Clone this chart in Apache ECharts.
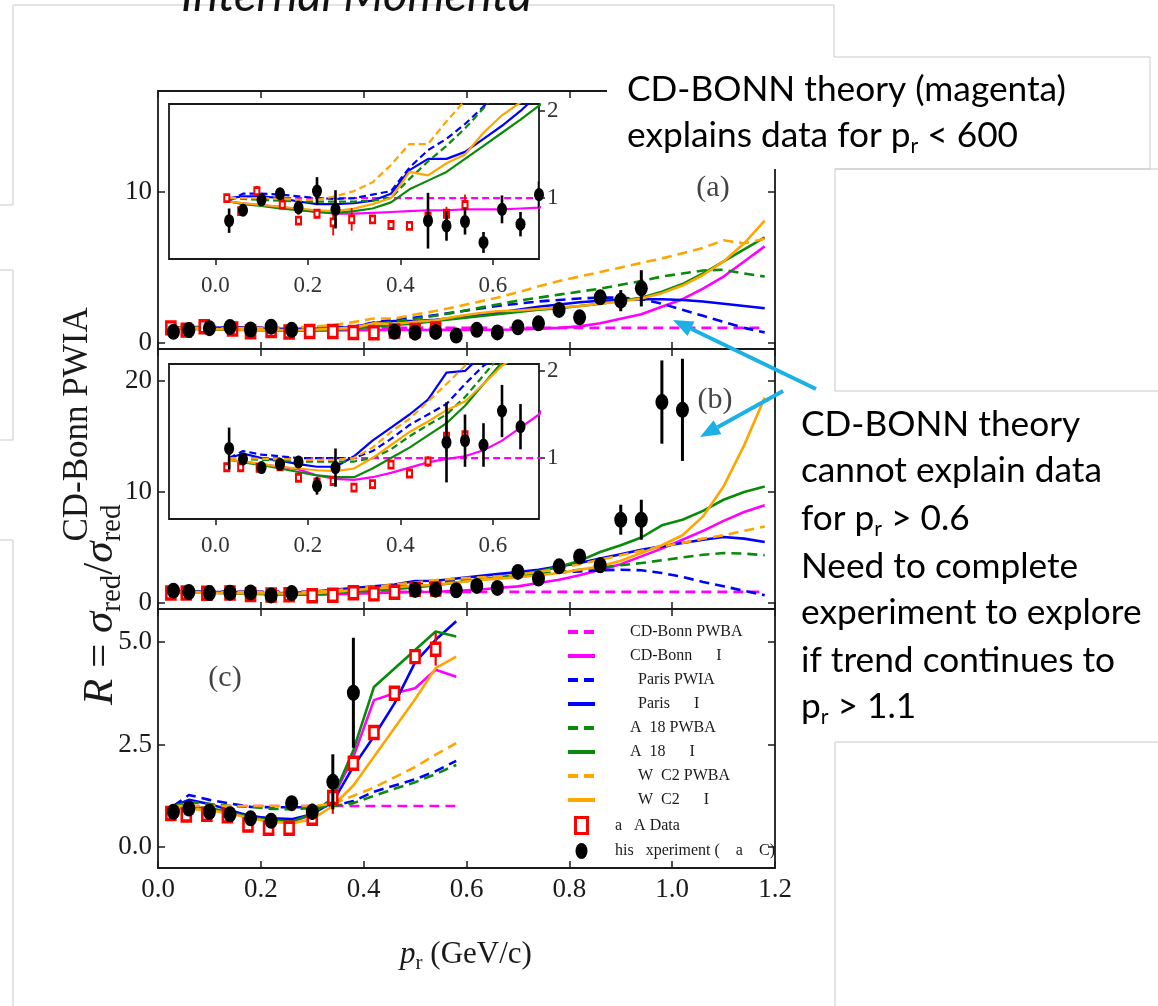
<!DOCTYPE html>
<html>
<head>
<meta charset="utf-8">
<title>R vs p_r</title>
<script src="https://cdn.jsdelivr.net/npm/echarts@6/dist/echarts.min.js"></script>
<style>
html,body{margin:0;padding:0;background:#fff;}
#chart{width:1158px;height:1006px;}
</style>
</head>
<body>
<div id="chart"></div>
<script>
// ================= DATA =================
const xTickStep = 0.2;
const aYTicks = [0, 10];
const bYTicks = [0, 10, 20];
const cYTicks = [0, 2.5, 5];
const insetXTicks = [0, 0.2, 0.4, 0.6];
const insetYTicks = [1, 2];

const seriesNames = ['CD-Bonn PWBA', 'CD-Bonn      I', '  Paris PWIA', '  Paris      I',
  'A  18 PWBA', 'A  18      I', '  W  C2 PWBA', '  W  C2      I',
  'a   A Data', 'his   xperiment (    a    C)'];

// theory grid (panels a, b) and panel c
const curveX = [0.03,0.06,0.10,0.14,0.18,0.22,0.26,0.30,0.34,0.38,0.42,0.46,0.50,0.54,0.58,0.62,0.66,0.70,0.74,0.78,0.82,0.86,0.90,0.94,0.98,1.02,1.06,1.10,1.14,1.18];
const curveXc = [0.03,0.06,0.10,0.14,0.18,0.22,0.26,0.30,0.34,0.38,0.42,0.46,0.50,0.54,0.58];

// ---- panel (a) ----
const aCdPwba   = [1,1,1,1,1,1,1,1,1,1,1,1,1,1,1,1,1,1,1,1,1,1,1,1,1,1,1,1,1,1];
const aCdFsi    = [0.96,0.94,0.92,0.90,0.87,0.84,0.82,0.82,0.83,0.84,0.85,0.86,0.86,0.87,0.87,0.87,0.88,0.89,0.95,1.0,1.1,1.3,1.6,1.9,2.4,2.9,3.6,4.4,5.4,6.4];
const aParisPwia= [0.97,1.05,1.05,1.04,1.02,1.0,0.99,1.0,1.04,1.08,1.35,1.55,1.68,1.85,2.05,2.25,2.45,2.6,2.75,2.85,2.95,3.0,3.0,2.9,2.6,2.2,1.8,1.4,1.0,0.7];
const aParisFsi = [1.0,1.02,1.02,1.0,0.96,0.93,0.93,0.94,0.97,1.05,1.32,1.45,1.45,1.53,1.68,1.83,2.0,2.2,2.4,2.55,2.7,2.8,2.85,2.9,2.9,2.85,2.75,2.6,2.45,2.3];
const aAv18Pwba = [1.0,0.99,0.98,0.97,0.96,0.96,0.96,0.96,0.97,1.0,1.22,1.42,1.6,1.8,2.03,2.3,2.55,2.8,3.0,3.2,3.4,3.6,3.85,4.1,4.4,4.6,4.8,4.85,4.6,4.4];
const aAv18Fsi  = [0.96,0.93,0.91,0.88,0.86,0.84,0.83,0.85,0.88,0.95,1.1,1.2,1.3,1.45,1.6,1.75,1.9,2.06,2.2,2.3,2.45,2.6,2.8,3.0,3.4,3.9,4.6,5.4,6.2,7.0];
const aWjcPwba  = [1.0,1.0,1.0,0.99,0.98,0.98,1.02,1.08,1.18,1.38,1.62,1.62,1.88,2.12,2.4,2.7,3.0,3.35,3.75,4.1,4.4,4.7,5.0,5.3,5.6,5.95,6.3,6.8,6.6,6.9];
const aWjcFsi   = [0.96,0.94,0.92,0.9,0.88,0.86,0.85,0.88,0.93,1.0,1.3,1.26,1.4,1.5,1.75,1.95,2.1,2.15,2.25,2.35,2.45,2.6,2.75,2.95,3.3,3.8,4.5,5.4,6.6,8.1];
const aHallaX   = [0.025,0.055,0.09,0.145,0.18,0.22,0.255,0.295,0.34,0.38,0.42,0.46,0.50,0.54];
const aHallaY   = [1.00,0.85,1.08,0.925,0.74,0.82,0.72,0.755,0.755,0.69,0.68,0.79,0.82,0.92];
const aHallaErr = [0.03,0.03,0.06,0.03,0.03,0.03,0.15,0.13,0.05,0.03,0.03,0.06,0.08,0.12];
const aExpX     = [0.03,0.06,0.10,0.14,0.18,0.22,0.26,0.46,0.50,0.54,0.58,0.62,0.66,0.70,0.74,0.78,0.82,0.86,0.90,0.94];
const aExpY     = [0.74,0.86,0.98,1.05,0.89,1.08,0.87,0.74,0.68,0.73,0.49,0.87,0.70,1.04,1.30,2.19,1.70,3.02,2.80,3.62];
const aExpErr   = [0.14,0.05,0.05,0.06,0.08,0.16,0.22,0.32,0.17,0.15,0.12,0.16,0.14,0.15,0.2,0.2,0.2,0.35,0.7,1.2];

// ---- panel (b) ----
const bCdPwba   = [1,1,1,1,1,1,1,1,1,1,1,1,1,1,1,1,1,1,1,1,1,1,1,1,1,1,1,1,1,1];
const bCdFsi    = [0.98,0.96,0.93,0.90,0.87,0.80,0.76,0.75,0.78,0.83,0.89,0.95,0.99,1.02,1.09,1.2,1.35,1.5,1.8,2.1,2.5,3.0,3.5,4.2,4.9,5.7,6.5,7.4,8.2,8.8];
const bParisPwia= [1.0,1.08,1.04,1.02,1.0,1.0,1.0,1.0,1.08,1.22,1.38,1.5,1.62,1.85,2.06,2.2,2.35,2.5,2.6,2.75,2.85,2.95,3.0,2.95,2.7,2.35,1.9,1.5,1.1,0.7];
const bParisFsi = [1.0,1.05,1.0,0.97,0.93,0.9,0.9,1.02,1.2,1.35,1.5,1.67,1.98,2.0,2.2,2.4,2.6,2.8,3.0,3.3,3.6,4.0,4.4,4.8,5.1,5.4,5.7,5.95,5.8,5.5];
const bAv18Pwba = [1.0,0.99,0.98,0.97,0.96,0.96,0.96,0.96,1.0,1.1,1.25,1.38,1.5,1.7,1.95,2.2,2.3,2.45,2.6,2.8,3.0,3.2,3.4,3.6,3.85,4.1,4.35,4.5,4.45,4.3];
const bAv18Fsi  = [0.98,0.95,0.92,0.88,0.84,0.8,0.78,0.78,0.88,1.0,1.12,1.26,1.4,1.6,1.85,2.1,2.3,2.55,2.85,3.25,3.8,4.6,5.2,5.9,7.0,7.5,8.3,9.3,10.0,10.5];
const bWjcPwba  = [1.0,1.0,0.99,0.99,0.98,0.98,0.98,1.0,1.12,1.3,1.45,1.65,1.85,2.06,2.2,2.3,2.4,2.55,2.8,3.1,3.5,3.9,4.3,4.7,5.1,5.4,5.8,6.1,6.5,6.9];
const bWjcFsi   = [0.98,0.96,0.93,0.9,0.88,0.86,0.85,0.88,1.0,1.15,1.3,1.42,1.55,1.65,1.85,2.06,2.2,2.3,2.5,2.7,3.0,3.3,3.8,4.5,5.2,6.1,7.8,10.5,14.2,18.5];
const bHallaX   = [0.025,0.055,0.095,0.14,0.18,0.22,0.255,0.30,0.34,0.38,0.42,0.46,0.50,0.54];
const bHallaY   = [0.894,0.894,0.887,0.906,0.774,0.72,0.736,0.66,0.70,0.925,0.823,0.96,1.245,1.264];
const bHallaErr = [0.03,0.03,0.03,0.03,0.03,0.03,0.03,0.04,0.04,0.05,0.04,0.06,0.17,0.19];
const bExpX     = [0.03,0.06,0.10,0.14,0.18,0.22,0.26,0.50,0.54,0.58,0.62,0.66,0.70,0.74,0.78,0.82,0.86,0.90,0.94,0.98,1.02];
const bExpY     = [1.11,0.99,0.89,0.93,0.955,0.68,0.89,1.18,1.20,1.15,1.54,1.36,2.8,2.2,3.3,4.2,3.4,7.5,7.5,18.1,17.4];
const bExpErr   = [0.24,0.05,0.05,0.05,0.07,0.10,0.22,0.46,0.30,0.25,0.30,0.26,0.2,0.2,0.2,0.25,0.3,1.35,1.8,3.75,4.6];

// ---- panel (c) ----
const cCdPwba   = [1,1,1,1,1,1,1,1,1,1,1,1,1,1,1];
const cCdFsi    = [0.98,0.95,0.92,0.85,0.76,0.68,0.63,0.78,1.2,2.2,3.58,3.75,3.87,4.32,4.15];
const cParisPwia= [1.0,1.27,1.15,1.06,0.98,0.97,0.97,0.97,1.0,1.12,1.35,1.5,1.65,1.85,2.1];
const cParisFsi = [1.0,1.15,1.05,0.9,0.75,0.7,0.68,0.8,1.1,1.96,2.7,3.5,4.5,5.05,5.5];
const cAv18Pwba = [1.0,1.1,1.05,1.0,0.98,0.93,0.92,0.95,1.0,1.07,1.25,1.42,1.58,1.78,2.0];
const cAv18Fsi  = [0.98,0.97,0.95,0.85,0.72,0.66,0.62,0.8,1.2,2.36,3.9,4.35,4.8,5.25,5.13];
const cWjcPwba  = [1.0,1.0,1.0,1.0,1.0,1.0,1.0,1.0,1.05,1.25,1.45,1.7,1.95,2.25,2.53];
const cWjcFsi   = [0.95,0.93,0.9,0.82,0.7,0.62,0.58,0.68,1.0,1.5,2.2,2.9,3.6,4.36,4.64];
const cHallaX   = [0.025,0.055,0.095,0.135,0.175,0.215,0.255,0.30,0.34,0.38,0.42,0.46,0.50,0.54];
const cHallaY   = [0.82,0.78,0.80,0.76,0.54,0.46,0.46,0.70,1.21,2.04,2.79,3.75,4.64,4.82];
const cHallaErr = [0.03,0.03,0.03,0.03,0.03,0.03,0.03,0.05,0.4,0.1,0.1,0.1,0.15,0.4];
const cExpX     = [0.03,0.06,0.10,0.14,0.18,0.22,0.26,0.30,0.34,0.38];
const cExpY     = [0.86,0.94,0.86,0.80,0.70,0.64,1.07,0.86,1.59,3.76];
const cExpErr   = [0.18,0.1,0.1,0.1,0.12,0.1,0.12,0.2,0.67,1.34];

// ================= STYLE / LAYOUT =================
const SERIF = 'Liberation Serif';
const SANS = 'Lato';
const INK = '#1a1a1a';
const MAG = '#ff00ff', BLUE = '#0000ff', GREEN = '#0a8a0a', ORANGE = '#ffa500', RED = '#ff0000';
const CYAN = '#1bb0e6';
const curveColors = [MAG, MAG, BLUE, BLUE, GREEN, GREEN, ORANGE, ORANGE];
const curveDashed = [true, false, true, false, true, false, true, false];

const mctx = document.createElement('canvas').getContext('2d');
function tw(text, size, family, style) {
  mctx.font = (style || 'normal') + ' ' + size + 'px "' + family + '"';
  return mctx.measureText(text).width;
}

function zip(xs, ys) { return xs.map((x, i) => [x, ys[i]]); }
function zip3(xs, ys, es) { return xs.map((x, i) => [x, ys[i], es[i]]); }

function errRender(color, width) {
  return function (params, api) {
    const x = api.value(0), y = api.value(1), e = api.value(2);
    const p1 = api.coord([x, y - e]);
    const p2 = api.coord([x, y + e]);
    return { type: 'line', shape: { x1: p1[0], y1: p1[1], x2: p2[0], y2: p2[1] },
      style: { stroke: color, lineWidth: width } };
  };
}

function curveSeries(xi, yi, xs, arrays, inset) {
  return arrays.map((arr, k) => ({
    type: 'line', name: seriesNames[k], xAxisIndex: xi, yAxisIndex: yi,
    data: zip(xs, arr), symbol: 'none', showSymbol: false, silent: true, animation: false,
    clip: true, z: 2,
    itemStyle: { color: curveColors[k] },
    lineStyle: { color: curveColors[k], width: inset ? 2.2 : 2.6,
      type: curveDashed[k] ? (inset ? [7, 4] : [10, 6]) : 'solid' }
  }));
}

function pointSeries(xi, yi, hx, hy, he, ex, ey, ee, inset) {
  return [
    { type: 'scatter', name: seriesNames[8], xAxisIndex: xi, yAxisIndex: yi, data: zip(hx, hy),
      symbol: 'rect', symbolSize: inset ? [5, 7] : [9, 12], clip: true, z: 4, silent: true, animation: false,
      itemStyle: { color: '#ffffff', borderColor: RED, borderWidth: inset ? 2.4 : 3, opacity: 1 } },
    { type: 'custom', name: 'hallaErr', xAxisIndex: xi, yAxisIndex: yi, data: zip3(hx, hy, he),
      renderItem: errRender(RED, inset ? 1.8 : 2.2), clip: true, z: 3, silent: true, animation: false },
    { type: 'scatter', name: seriesNames[9], xAxisIndex: xi, yAxisIndex: yi, data: zip(ex, ey),
      symbol: 'circle', symbolSize: inset ? [10, 13] : [13, 16], clip: true, z: 6, silent: true, animation: false,
      itemStyle: { color: '#000000', opacity: 1 } },
    { type: 'custom', name: 'expErr', xAxisIndex: xi, yAxisIndex: yi, data: zip3(ex, ey, ee),
      renderItem: errRender('#000000', inset ? 2.6 : 3), clip: true, z: 5, silent: true, animation: false }
  ];
}

const tickLine = { color: INK, width: 1.5 };
const noLine = { show: false, onZero: false };
function mainX(grid, showLabels) {
  return [
    { type: 'value', gridIndex: grid, position: 'bottom', min: 0, max: 1.2, interval: xTickStep,
      axisLine: noLine, splitLine: { show: false },
      axisTick: { show: true, inside: true, length: 7, lineStyle: tickLine },
      axisLabel: { show: showLabels, margin: 8, fontFamily: SERIF, fontSize: 27, color: INK,
        showMinLabel: true, showMaxLabel: true, formatter: v => v.toFixed(1) } },
    { type: 'value', gridIndex: grid, position: 'top', min: 0, max: 1.2, interval: xTickStep,
      axisLine: noLine, splitLine: { show: false },
      axisTick: { show: true, inside: true, length: 7, lineStyle: tickLine },
      axisLabel: { show: false } }
  ];
}
function mainY(grid, min, max, ticks, fmt) {
  return [
    { type: 'value', gridIndex: grid, position: 'left', min: min, max: max,
      axisLine: noLine, splitLine: { show: false },
      axisTick: { show: true, inside: true, length: 7, lineStyle: tickLine, customValues: ticks },
      axisLabel: { show: true, customValues: ticks, margin: 6, fontFamily: SERIF, fontSize: 27,
        color: INK, formatter: fmt } },
    { type: 'value', gridIndex: grid, position: 'right', min: min, max: max,
      axisLine: noLine, splitLine: { show: false },
      axisTick: { show: true, inside: true, length: 7, lineStyle: tickLine, customValues: ticks },
      axisLabel: { show: false } }
  ];
}
function insetX(grid) {
  return { type: 'value', gridIndex: grid, position: 'bottom', min: -0.1, max: 0.7,
    axisLine: noLine, splitLine: { show: false },
    axisTick: { show: true, inside: false, length: 6, lineStyle: tickLine, customValues: insetXTicks },
    axisLabel: { show: true, customValues: insetXTicks, margin: 15, fontFamily: SERIF, fontSize: 23,
      color: '#333', formatter: v => v.toFixed(1) } };
}
function insetY(grid) {
  return { type: 'value', gridIndex: grid, position: 'right', min: 0.3, max: 2.08,
    axisLine: noLine, splitLine: { show: false },
    axisTick: { show: true, inside: false, length: 6, lineStyle: tickLine, customValues: insetYTicks },
    axisLabel: { show: true, customValues: insetYTicks, margin: 8, fontFamily: SERIF, fontSize: 23,
      color: '#333', formatter: v => String(v) } };
}

const gridFrame = { show: true, borderColor: INK, borderWidth: 1.8 };
const grids = [
  Object.assign({ left: 158, top: 91, width: 617, height: 258, backgroundColor: 'transparent' }, gridFrame),
  Object.assign({ left: 158, top: 349, width: 617, height: 260, backgroundColor: 'transparent' }, gridFrame),
  Object.assign({ left: 158, top: 609, width: 617, height: 259, backgroundColor: 'transparent' }, gridFrame),
  Object.assign({ left: 169, top: 104, width: 370, height: 155, backgroundColor: '#ffffff' }, gridFrame),
  Object.assign({ left: 169, top: 364, width: 370, height: 155, backgroundColor: '#ffffff' }, gridFrame)
];

const xAxes = [].concat(mainX(0, false), mainX(1, false), mainX(2, true), [insetX(3), insetX(4)]);
// indices: a:0/1, b:2/3, c:4/5, insetA:6, insetB:7
const yAxes = [].concat(
  mainY(0, -0.40, 16.69, aYTicks, v => String(v)),
  mainY(1, -0.54, 22.88, bYTicks, v => String(v)),
  mainY(2, -0.51, 5.80, cYTicks, v => v.toFixed(1)),
  [insetY(3), insetY(4)]
);

const aCurves = [aCdPwba, aCdFsi, aParisPwia, aParisFsi, aAv18Pwba, aAv18Fsi, aWjcPwba, aWjcFsi];
const bCurves = [bCdPwba, bCdFsi, bParisPwia, bParisFsi, bAv18Pwba, bAv18Fsi, bWjcPwba, bWjcFsi];
const cCurves = [cCdPwba, cCdFsi, cParisPwia, cParisFsi, cAv18Pwba, cAv18Fsi, cWjcPwba, cWjcFsi];

const series = [].concat(
  curveSeries(0, 0, curveX, aCurves, false),
  pointSeries(0, 0, aHallaX, aHallaY, aHallaErr, aExpX, aExpY, aExpErr, false),
  curveSeries(2, 2, curveX, bCurves, false),
  pointSeries(2, 2, bHallaX, bHallaY, bHallaErr, bExpX, bExpY, bExpErr, false),
  curveSeries(4, 4, curveXc, cCurves, false),
  pointSeries(4, 4, cHallaX, cHallaY, cHallaErr, cExpX, cExpY, cExpErr, false),
  curveSeries(6, 6, curveX, aCurves, true),
  pointSeries(6, 6, aHallaX, aHallaY, aHallaErr, aExpX, aExpY, aExpErr, true),
  curveSeries(7, 7, curveX, bCurves, true),
  pointSeries(7, 7, bHallaX, bHallaY, bHallaErr, bExpX, bExpY, bExpErr, true)
);

// ================= GRAPHIC ANNOTATIONS =================
const G = [];
const GRAY = '#c9c9c9';
// faint slide outlines
G.push({ type: 'polyline', z: 1, shape: { points: [[0, 205], [13, 205], [13, 5], [834, 5], [834, 57], [1150, 57], [1150, 169], [835, 169]] }, style: { stroke: GRAY, lineWidth: 1, fill: null } });
G.push({ type: 'polyline', z: 1, shape: { points: [[1158, 169], [835, 169], [835, 391], [1158, 391]] }, style: { stroke: GRAY, lineWidth: 1, fill: null } });
G.push({ type: 'polyline', z: 1, shape: { points: [[0, 270], [13, 270], [13, 440], [0, 440]] }, style: { stroke: GRAY, lineWidth: 1, fill: null } });
G.push({ type: 'polyline', z: 1, shape: { points: [[0, 540], [13, 540], [13, 1006]] }, style: { stroke: GRAY, lineWidth: 1, fill: null } });
G.push({ type: 'polyline', z: 1, shape: { points: [[1158, 742], [835, 742], [835, 1006]] }, style: { stroke: GRAY, lineWidth: 1, fill: null } });

// truncated slide title
(function () {
  const t = 'Internal Momenta';
  const fs = 40 * 351 / tw(t, 40, SANS, 'italic');
  G.push({ type: 'text', x: 181, y: 8 + fs * 0.24, z: 100,
    style: { text: t, fontFamily: SANS, fontStyle: 'italic', fontSize: fs, fill: '#111', align: 'left', verticalAlign: 'bottom' } });
})();

// white text box covering the top-right corner of panel (a)
G.push({ type: 'rect', z: 99, shape: { x: 607, y: 62, width: 225, height: 107 }, style: { fill: '#ffffff' } });

// sans annotation lines with subscripts
const annFS = 32 * 439 / tw('CD-BONN theory (magenta)', 32, SANS);
function annLine(x, y, parts) {
  let cx = x;
  parts.forEach(p => {
    const fs = p.sub ? annFS * 0.6 : annFS;
    G.push({ type: 'text', x: cx, y: y + (p.sub ? annFS * 0.3 : 0), z: 101,
      style: { text: p.t, fontFamily: SANS, fontSize: fs, fill: '#000', align: 'left', verticalAlign: 'middle' } });
    cx += tw(p.t, fs, SANS);
  });
}
annLine(627, 90, [{ t: 'CD-BONN theory (magenta)' }]);
annLine(627, 136, [{ t: 'explains data for p' }, { t: 'r', sub: true }, { t: ' < 600' }]);
annLine(801, 425, [{ t: 'CD-BONN theory' }]);
annLine(801, 471, [{ t: 'cannot explain data' }]);
annLine(801, 519, [{ t: 'for p' }, { t: 'r', sub: true }, { t: ' > 0.6' }]);
annLine(801, 567, [{ t: 'Need to complete' }]);
annLine(801, 613, [{ t: 'experiment to explore' }]);
annLine(801, 661, [{ t: 'if trend continues to' }]);
annLine(801, 707, [{ t: 'p' }, { t: 'r', sub: true }, { t: ' > 1.1' }]);

// arrows
function arrow(x1, y1, x2, y2) {
  const ang = Math.atan2(y2 - y1, x2 - x1);
  const L = 20, W = 8;
  const bx = x2 - L * Math.cos(ang), by = y2 - L * Math.sin(ang);
  const px = -Math.sin(ang), py = Math.cos(ang);
  G.push({ type: 'line', z: 102, shape: { x1: x1, y1: y1, x2: bx, y2: by }, style: { stroke: CYAN, lineWidth: 4 } });
  G.push({ type: 'polygon', z: 102, shape: { points: [[x2, y2], [bx + W * px, by + W * py], [bx - W * px, by - W * py]] }, style: { fill: CYAN } });
}
arrow(816, 389, 673, 320);
arrow(783, 391, 700, 437);

// panel tags
[['(a)', 713, 188], ['(b)', 715, 400], ['(c)', 225, 678]].forEach(d => {
  G.push({ type: 'text', x: d[1], y: d[2], z: 100,
    style: { text: d[0], fontFamily: SERIF, fontSize: 30, fill: '#444', align: 'center', verticalAlign: 'middle' } });
});

// x-axis title: p_r (GeV/c)
(function () {
  const fs = 31, sfs = 21;
  const w1 = tw('p', fs, SERIF, 'italic'), w2 = tw('r', sfs, SERIF), w3 = tw(' (GeV/c)', fs, SERIF);
  let x = 466 - (w1 + w2 + w3) / 2; const y = 955;
  G.push({ type: 'text', x: x, y: y, z: 100, style: { text: 'p', fontFamily: SERIF, fontStyle: 'italic', fontSize: fs, fill: INK, align: 'left', verticalAlign: 'middle' } });
  x += w1;
  G.push({ type: 'text', x: x, y: y + 8, z: 100, style: { text: 'r', fontFamily: SERIF, fontSize: sfs, fill: INK, align: 'left', verticalAlign: 'middle' } });
  x += w2;
  G.push({ type: 'text', x: x, y: y, z: 100, style: { text: ' (GeV/c)', fontFamily: SERIF, fontSize: fs, fill: INK, align: 'left', verticalAlign: 'middle' } });
})();

// y-axis title: R = sigma_red / sigma_red^{CD-Bonn PWIA} (rotated)
(function () {
  const fs = 43, subfs = 29, supfs = 35;
  const parts = [
    { t: 'R', it: true }, { t: ' = ' }, { t: 'σ', it: true }, { t: 'red', sub: true }, { t: '/' },
    { t: 'σ', it: true }, { t: 'red', sub: true, keep: true }, { t: 'CD-Bonn PWIA', sup: true }
  ];
  const kids = []; let lx = 0;
  parts.forEach(p => {
    const size = p.sub ? subfs : (p.sup ? supfs : fs);
    const st = p.it ? 'italic' : 'normal';
    const ly = p.sub ? 11 : (p.sup ? -23 : 0);
    kids.push({ type: 'text', x: lx, y: ly, style: { text: p.t, fontFamily: SERIF, fontStyle: st, fontSize: size, fill: INK, align: 'left', verticalAlign: 'middle' } });
    if (!p.keep) lx += tw(p.t, size, SERIF, st);
  });
  G.push({ type: 'group', x: 101, y: 705, rotation: Math.PI / 2, z: 100, children: kids });
})();

// ================= CHART =================
const chart = echarts.init(document.getElementById('chart'), null, { renderer: 'canvas', width: 1158, height: 1006 });
const hideSym = { opacity: 0 };
chart.setOption({
  backgroundColor: '#ffffff',
  animation: false,
  grid: grids,
  xAxis: xAxes,
  yAxis: yAxes,
  legend: {
    orient: 'vertical', left: 566, top: 624, itemWidth: 27, itemHeight: 16, itemGap: 8,
    selectedMode: false, padding: 0,
    textStyle: { fontFamily: SERIF, fontSize: 16, color: INK, lineHeight: 16, padding: [0, 0, 0, 30] },
    lineStyle: { width: 4 },
    data: seriesNames.slice(0, 8).map(n => ({ name: n, itemStyle: hideSym })).concat([
      { name: seriesNames[8], icon: 'path://M0,0h12v16h-12z',
        itemStyle: { color: '#ffffff', borderColor: RED, borderWidth: 3, opacity: 1 },
        textStyle: { padding: [0, 0, 0, 15] } },
      { name: seriesNames[9], icon: 'path://M6,0A6,8,0,1,1,6,16A6,8,0,1,1,6,0z',
        itemStyle: { color: '#000000', opacity: 1 },
        textStyle: { padding: [0, 0, 0, 15] } }
    ])
  },
  series: series,
  graphic: { elements: G }
});
</script>
</body>
</html>
